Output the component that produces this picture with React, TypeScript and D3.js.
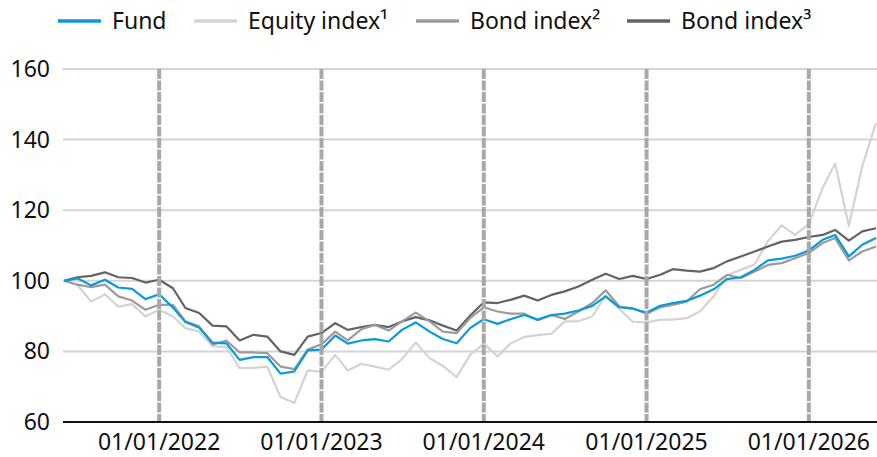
import React from "react";
import * as d3 from "d3";

const startMonth = new Date(2021, 5, 1);
const months = d3.range(61).map((i) => new Date(2021, 5 + i, 1));

const fund = [100, 100.7, 98.7, 100.3, 98.1, 97.7, 94.8, 96.2, 92.4, 88.3, 86.7, 82.5, 82.3, 77.6, 78.4, 78.4, 73.7, 74.3, 80.3, 80.5, 84.5, 82.2, 83.1, 83.5, 82.8, 86.1, 88.2, 85.6, 83.5, 82.3, 86.6, 89.1, 87.8, 89.1, 90.3, 89.0, 90.3, 90.7, 91.6, 92.9, 95.6, 92.5, 92.1, 91.0, 92.9, 93.7, 94.3, 95.8, 97.6, 100.5, 101.0, 103.1, 105.8, 106.3, 107.1, 108.6, 111.6, 113.0, 106.9, 110.2, 112.1];
const equity = [100, 98.8, 94.1, 96.2, 92.7, 93.4, 89.9, 91.8, 89.9, 86.6, 85.6, 81.5, 81.2, 75.3, 75.3, 75.7, 67.1, 65.4, 74.6, 74.2, 79, 74.6, 76.5, 75.7, 74.8, 77.8, 82.5, 78.1, 75.9, 72.7, 79, 82.2, 78.6, 82.2, 84.1, 84.6, 85, 88.5, 88.6, 89.9, 95.8, 92, 88.4, 88.2, 89, 89, 89.4, 91.3, 95.6, 101.6, 103.1, 104.6, 111.3, 115.7, 113, 116.1, 126.3, 133.2, 115.6, 132.4, 144.7];
const bond2 = [100, 98.9, 98.2, 98.9, 95.6, 94.4, 91.8, 93.2, 93.2, 88.5, 87.1, 81.9, 83.1, 79.7, 79.7, 79.5, 75.7, 75.0, 80.5, 82.0, 85.6, 83.1, 86.3, 87.5, 85.9, 88.5, 91.0, 88.5, 85.6, 85.2, 89.4, 92.5, 91.3, 90.7, 90.7, 88.8, 90.3, 89.2, 91.3, 93.7, 97.3, 92.7, 92.2, 90.7, 92.5, 93.2, 94.1, 97.6, 98.9, 101.7, 100.8, 102.6, 104.5, 105.0, 106.4, 107.9, 110.7, 112.1, 105.8, 108.3, 109.7];
const bond3 = [100, 101, 101.4, 102.4, 101, 100.8, 99.5, 100.3, 97.9, 92.3, 90.9, 87.3, 87.1, 83.1, 84.7, 84.2, 80, 79, 84.2, 85.2, 88, 86.1, 86.9, 87.5, 86.9, 88.5, 89.7, 88.8, 87.3, 85.9, 90.1, 93.9, 93.7, 94.6, 95.8, 94.4, 96, 97, 98.4, 100.3, 102, 100.5, 101.4, 100.5, 101.7, 103.3, 102.9, 102.6, 103.6, 105.5, 106.9, 108.3, 109.7, 111.1, 111.6, 112.4, 113, 114.4, 111.4, 114, 114.9];

const seriesNames = ["Fund", "Equity index\u00B9", "Bond index\u00B2", "Bond index\u00B3"];
const seriesColors = ["#0a9ad8", "#d3d3d3", "#9b9b9b", "#636363"];
const seriesValues = [fund, equity, bond2, bond3];
const drawOrder = [1, 3, 2, 0];

const yTicks = [60, 80, 100, 120, 140, 160];
const xTicks = [2022, 2023, 2024, 2025, 2026].map((y) => new Date(y, 0, 1));
const xTickLabels = ["01/01/2022", "01/01/2023", "01/01/2024", "01/01/2025", "01/01/2026"];

const W = 877;
const H = 457;
const FONT = "'Noto Sans', 'Open Sans', sans-serif";

export default function App() {
  const x = d3.scaleTime().domain([startMonth, months[months.length - 1]]).range([64, 876]);
  const y = d3.scaleLinear().domain([60, 160]).range([422, 69]);
  const line = (vals: number[]) =>
    d3
      .line<number>()
      .x((_, i) => x(months[i]))
      .y((v) => y(v))(vals) as string;

  const legendX = [58, 194, 416, 627];

  return (
    <div style={{ position: "fixed", left: 0, top: 0, width: W, height: H, background: "#fff" }}>
      <svg width={W} height={H} style={{ display: "block", fontFamily: FONT }}>
        {yTicks.slice(1).map((t) => (
          <line key={t} x1={63} x2={W} y1={y(t)} y2={y(t)} stroke="#d4d4d4" strokeWidth={2} />
        ))}
        {yTicks.map((t) => (
          <text key={"l" + t} x={50} y={y(t)} dy="0.35em" textAnchor="end" fontSize={23} fill="#111">
            {t}
          </text>
        ))}
        {drawOrder.map((k) => (
          <path key={k} d={line(seriesValues[k])} fill="none" stroke={seriesColors[k]} strokeWidth={2.2} strokeLinejoin="round" />
        ))}
        {xTicks.map((d, i) => (
          <g key={i}>
            <line x1={x(d)} x2={x(d)} y1={69} y2={422} stroke="#a8a8a8" strokeWidth={4} strokeDasharray="10,1.5" />
            <text x={x(d)} y={450} textAnchor="middle" fontSize={23} fill="#111">
              {xTickLabels[i]}
            </text>
          </g>
        ))}
        <line x1={63} x2={W} y1={y(60)} y2={y(60)} stroke="#111" strokeWidth={2} />
        {seriesNames.map((n, i) => (
          <g key={n}>
            <line x1={legendX[i]} x2={legendX[i] + 43} y1={21} y2={21} stroke={seriesColors[i]} strokeWidth={3.5} />
            <text x={legendX[i] + 54} y={21} dy="0.35em" fontSize={23} fill="#111">
              {n}
            </text>
          </g>
        ))}
      </svg>
    </div>
  );
}
